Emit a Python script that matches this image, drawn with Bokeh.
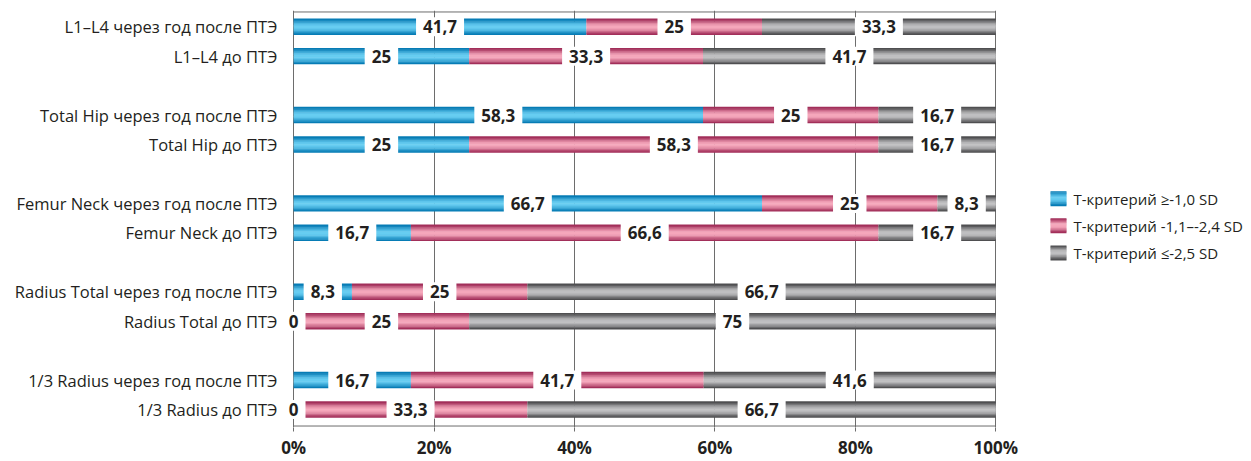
import numpy as np
from bokeh.plotting import figure
from bokeh.layouts import row
from bokeh.models import ColumnDataSource, Range1d, FixedTicker
from bokeh.core.properties import value
from bokeh.embed import file_html
from bokeh.resources import INLINE

# Measurement sites (top to bottom) and periods
sites = ["L1–L4", "Total Hip", "Femur Neck", "Radius Total", "1/3 Radius"]
periods = ["через год после ПТЭ", "до ПТЭ"]
series = ["Т-критерий ≥-1,0 SD", "Т-критерий -1,1–-2,4 SD", "Т-критерий ≤-2,5 SD"]

# Shares of patients, %, one value per row (top to bottom)
normal = [41.7, 25, 58.3, 25, 66.7, 16.7, 8.3, 0, 16.7, 0]
osteopenia = [25, 33.3, 25, 58.3, 25, 66.6, 25, 25, 41.7, 33.3]
osteoporosis = [33.3, 41.7, 16.7, 16.7, 8.3, 16.7, 66.7, 75, 41.6, 66.7]

x_ticks = [0, 20, 40, 60, 80, 100]
x_tick_labels = ["0%", "20%", "40%", "60%", "80%", "100%"]

# (edge colour, centre colour) for the cylinder-like shading of each series
palette = [((0, 118, 176), (104, 206, 242)),
           ((156, 38, 82), (246, 168, 188)),
           ((70, 70, 72), (192, 192, 194))]

FONT = "Open Sans"
TEXT = "#231f20"
LINE = "#6d6d6d"

# y position of each row: two rows per site, an empty slot between sites
row_labels, row_y = [], []
for i, s in enumerate(sites):
    for j, per in enumerate(periods):
        row_labels.append(f"{s} {per}")
        row_y.append(13 - 3 * i - j)
row_y = np.array(row_y, dtype=float)
Y_TOP, Y_BOTTOM = 13.5, -0.56

values = [np.array(normal), np.array(osteopenia), np.array(osteoporosis)]

# the x range reaches a little below 0 so labels sitting at 0 are not clipped;
# the box around the 0..100 area is drawn by hand below
p = figure(width=1030, height=461, output_backend="svg", toolbar_location=None,
           x_range=Range1d(-2.3, 100.1), y_range=Range1d(Y_BOTTOM - 0.05, Y_TOP + 0.05),
           min_border_left=277, min_border_right=34, min_border_top=10,
           min_border_bottom=23, background_fill_color="white",
           border_fill_color="white")
p.outline_line_color = None

def shade(edge, mid, off):
    edge = np.array(edge, float)
    mid = np.array(mid, float)
    t = np.cos(off * np.pi) ** 1.3
    c = edge + (mid - edge) * t
    return "#%02x%02x%02x" % tuple(int(round(v)) for v in c)

# vertical grid lines, which also give the left and right sides of the box
p.xgrid.ticker = FixedTicker(ticks=x_ticks)
p.xgrid.grid_line_color = LINE
p.xgrid.grid_line_width = 1
p.ygrid.grid_line_color = None

# top and bottom sides of the box
p.segment(x0=[x_ticks[0]] * 2, x1=[x_ticks[-1]] * 2, y0=[Y_TOP, Y_BOTTOM],
          y1=[Y_TOP, Y_BOTTOM], line_color=LINE, line_width=1)

# horizontal stacked bars, each drawn as thin stripes to give a shaded tube
BAR_H = 0.54
N = 12
left = np.zeros(len(row_y))
label_x, label_y, label_t = [], [], []
for vals, (edge, mid) in zip(values, palette):
    right = left + vals
    for k in range(N):
        off = (k + 0.5) / N - 0.5
        src = ColumnDataSource(dict(y=row_y + off * BAR_H, left=left, right=right))
        p.hbar(y="y", left="left", right="right", height=BAR_H / N * 1.4,
               source=src, fill_color=shade(edge, mid, off), line_color=None)
    for y, l, v in zip(row_y, left, vals):
        label_x.append(l + v / 2)
        label_y.append(y)
        label_t.append(f"{v:g}".replace(".", ","))
    left = right

# value labels on white boxes
lab = ColumnDataSource(dict(x=label_x, y=label_y, text=label_t))
p.text(x="x", y="y", text="text", source=lab, text_font=value(FONT),
       text_font_style="bold", text_font_size="17px", text_color=TEXT,
       text_align="center", text_baseline="middle",
       background_fill_color="white", border_line_color=None, padding=(7, 3))

# axes
p.xaxis.ticker = FixedTicker(ticks=x_ticks)
p.xaxis.major_label_overrides = dict(zip(x_ticks, x_tick_labels))
p.xaxis.major_label_text_font = FONT
p.xaxis.major_label_text_font_style = "bold"
p.xaxis.major_label_text_font_size = "17px"
p.xaxis.major_label_text_color = TEXT
p.xaxis.major_tick_out = 4
p.xaxis.major_tick_in = 0
p.xaxis.minor_tick_line_color = None
p.xaxis.major_label_standoff = 4
p.xaxis.axis_line_color = None
p.xaxis.major_tick_line_color = LINE

p.yaxis.ticker = FixedTicker(ticks=list(row_y))
p.yaxis.major_label_overrides = {float(y): t for y, t in zip(row_y, row_labels)}
p.yaxis.major_label_text_font = FONT
p.yaxis.major_label_text_font_size = "16.5px"
p.yaxis.major_label_text_color = TEXT
p.yaxis.major_tick_out = 0
p.yaxis.major_tick_in = 0
p.yaxis.minor_tick_line_color = None
p.yaxis.major_label_standoff = 0
p.yaxis.axis_line_color = None

# legend panel with shaded swatches
lg = figure(width=221, height=461, output_backend="svg", toolbar_location=None,
            x_range=Range1d(0, 221), y_range=Range1d(461, 0),
            min_border=0, background_fill_color="white", border_fill_color="white")
lg.axis.visible = False
lg.grid.visible = False
lg.outline_line_color = None

SW = 16
sw_y = np.array([208.0, 238.0, 268.0])
for idx, (edge, mid) in enumerate(palette):
    for k in range(N):
        off = (k + 0.5) / N - 0.5
        lg.rect(x=[28], y=[sw_y[idx] + off * SW], width=SW, height=SW / N * 1.4,
                fill_color=shade(edge, mid, off), line_color=None)

lg.text(x=[43] * 3, y=list(sw_y), text=series, text_font=value(FONT),
        text_font_size="15px", text_color=TEXT, text_align="left",
        text_baseline="middle")

layout = row(p, lg)
open("out.html", "w").write(file_html(layout, INLINE))
